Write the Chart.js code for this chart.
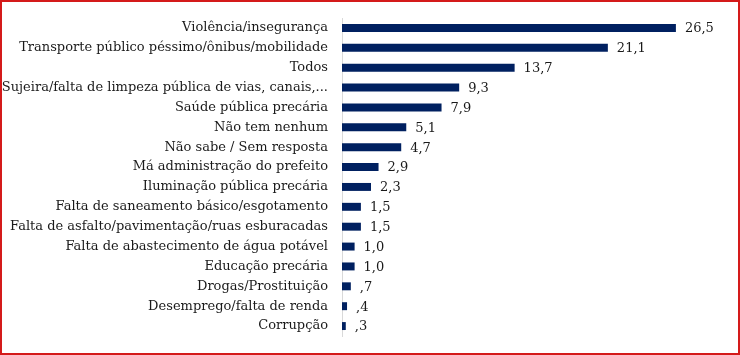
<!DOCTYPE html>
<html><head><meta charset="utf-8">
<script src="https://cdn.jsdelivr.net/npm/chart.js@4"></script>
<style>
html,body{margin:0;padding:0;background:#fff;}
#wrap{position:relative;width:740px;height:355px;box-sizing:border-box;border:2px solid #d41a1a;background:#fff;}
#c{position:absolute;left:0;top:0;}
</style></head><body>
<div id="wrap"><canvas id="c" width="736" height="351"></canvas></div>
<script>
const categories = [
  "Violência/insegurança",
  "Transporte público péssimo/ônibus/mobilidade",
  "Todos",
  "Sujeira/falta de limpeza pública de vias, canais,...",
  "Saúde pública precária",
  "Não tem nenhum",
  "Não sabe / Sem resposta",
  "Má administração do prefeito",
  "Iluminação pública precária",
  "Falta de saneamento básico/esgotamento",
  "Falta de asfalto/pavimentação/ruas esburacadas",
  "Falta de abastecimento de água potável",
  "Educação precária",
  "Drogas/Prostituição",
  "Desemprego/falta de renda",
  "Corrupção"
];
const values = [26.5, 21.1, 13.7, 9.3, 7.9, 5.1, 4.7, 2.9, 2.3, 1.5, 1.5, 1.0, 1.0, 0.7, 0.4, 0.3];
const xMax = 30;

const FONT = "'DejaVu Serif', serif";
function fmt(v){
  let s = v.toFixed(1).replace('.', ',');
  if (v < 1) s = s.replace(/^0/, '');
  return s;
}
const valueLabels = {
  id:'valueLabels',
  afterDatasetsDraw(chart){
    const ctx = chart.ctx;
    const meta = chart.getDatasetMeta(0);
    ctx.save();
    ctx.font = "13px " + FONT;
    ctx.fillStyle = "#1a1a1a";
    ctx.textBaseline = "middle";
    ctx.textAlign = "left";
    meta.data.forEach((bar,i)=>{
      ctx.fillText(fmt(values[i]), bar.x + 9, bar.y + 1);
    });
    ctx.restore();
  }
};

new Chart(document.getElementById('c'), {
  type:'bar',
  data:{labels:categories, datasets:[{data:values, backgroundColor:'#002060', barPercentage:0.8, categoryPercentage:0.5}]},
  options:{
    indexAxis:'y',
    responsive:false,
    animation:false,
    layout:{padding:{top:16,bottom:17,right:18,left:0}},
    plugins:{legend:{display:false},tooltip:{enabled:false}},
    scales:{
      x:{display:false,min:0,max:xMax},
      y:{
        afterFit(scale){ scale.width = 340; scale.paddingTop = 0; scale.paddingBottom = 0; },
        grid:{display:false, drawTicks:false},
        border:{display:true,color:'#d9d9d9',width:1},
        ticks:{font:{family:FONT,size:13},color:'#1a1a1a',padding:14,autoSkip:false}
      }
    }
  },
  plugins:[valueLabels]
});
</script>
</body></html>
